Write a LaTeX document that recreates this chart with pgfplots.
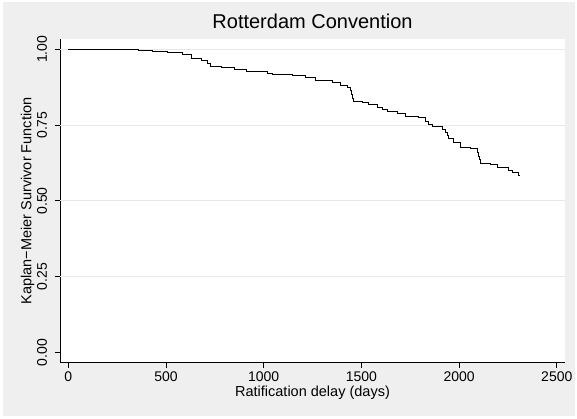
\documentclass[border=0pt]{standalone}
\usepackage{fontspec}
\setmainfont{Liberation Sans}
\usepackage{pgfplots}
\pgfplotsset{compat=1.18}
\definecolor{bgcol}{RGB}{239,239,239}
\definecolor{gridcol}{RGB}{232,232,232}
\begin{document}
\begin{tikzpicture}
\fill[white] (0pt,0pt) rectangle (577pt,419pt);
\fill[bgcol] (2.5pt,2.5pt) rectangle (574.5pt,416.5pt);
\begin{axis}[
  at={(60pt,56.7pt)}, anchor=south west,
  width=505pt, height=323pt, scale only axis,
  xmin=-42.5, xmax=2542, ymin=-0.0327, ymax=1.033,
  axis x line*=bottom, axis y line*=left,
  axis line style={black, line width=0.8pt},
  axis background/.style={fill=white},
  tick align=outside, major tick length=5.5pt,
  tick style={black, line width=0.8pt},
  xtick={0,500,1000,1500,2000,2500},
  ytick={0,0.25,0.5,0.75,1},
  extra y ticks={0.25,0.5,0.75,1},
  extra y tick style={ymajorgrids=true, yticklabels={}, major tick length=0pt},
  major grid style={gridcol, line width=0.8pt},
  /pgf/number format/assume math mode=true,
  /pgf/number format/1000 sep={},
  xticklabel style={font=\fontsize{14}{16}\selectfont},
  yticklabel style={font=\fontsize{14}{16}\selectfont, rotate=90, anchor=south},
  yticklabel shift=4pt,
  yticklabel={\pgfmathprintnumber[fixed,fixed zerofill,precision=2]{\tick}},
  scaled ticks=false,
  xlabel={Ratification delay (days)},
  ylabel={Kaplan−Meier Survivor Function},
  xlabel style={font=\fontsize{14.5}{16}\selectfont, yshift=2pt},
  ylabel style={font=\fontsize{14.5}{16}\selectfont, at={(axis description cs:-0.064,0.5)}, anchor=center},
  title={Rotterdam Convention},
  title style={font=\fontsize{20}{24}\selectfont, yshift=1pt},
  clip=false,
]
\addplot[const plot mark left, black, line width=0.8pt] coordinates {
(0,1.000)
(359,0.9967)
(431,0.9934)
(508,0.9891)
(585,0.9835)
(630,0.9700)
(682,0.9640)
(713,0.9530)
(729,0.9440)
(785,0.9395)
(852,0.9339)
(914,0.9283)
(1021,0.9210)
(1047,0.9170)
(1145,0.9141)
(1212,0.9075)
(1263,0.8986)
(1350,0.8900)
(1391,0.8821)
(1427,0.8755)
(1443,0.8650)
(1448,0.8500)
(1453,0.8380)
(1458,0.8292)
(1505,0.8240)
(1535,0.8180)
(1582,0.8090)
(1607,0.8010)
(1633,0.7960)
(1684,0.7886)
(1725,0.7777)
(1792,0.7744)
(1828,0.7631)
(1843,0.7522)
(1864,0.7446)
(1915,0.7357)
(1930,0.7250)
(1938,0.7150)
(1945,0.7063)
(1972,0.6937)
(2008,0.6772)
(2059,0.6719)
(2095,0.6587)
(2100,0.6480)
(2105,0.6370)
(2111,0.6235)
(2162,0.6202)
(2198,0.6092)
(2250,0.6003)
(2275,0.5946)
(2301,0.5847)
(2310,0.5847)
};
\end{axis}
\end{tikzpicture}
\end{document}
